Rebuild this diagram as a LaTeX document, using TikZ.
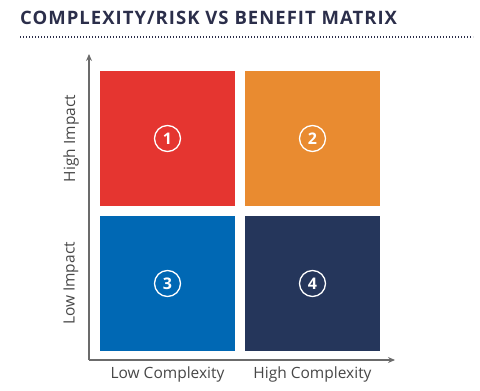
\documentclass[tikz,border=0pt]{standalone}
\usepackage{fontspec}
\setmainfont{Open Sans}
\usetikzlibrary{matrix, arrows.meta}
\definecolor{qred}{HTML}{E53530}
\definecolor{qorange}{HTML}{E98B30}
\definecolor{qblue}{HTML}{0068B4}
\definecolor{qnavy}{HTML}{25365B}
\definecolor{ink}{HTML}{2B2E4A}
\definecolor{axisgray}{HTML}{6B6B6B}
\tikzset{
  quad/.style={minimum size=135pt, inner sep=0pt, outer sep=0pt},
  num/.style={draw=white, circle, line width=1.3pt, minimum size=26pt, inner sep=0pt, text=white, font=\fontsize{16}{16}\selectfont\bfseries},
  axlabel/.style={text=black!72, font=\fontsize{15.5}{16}\selectfont}
}

\begin{document}
\begin{tikzpicture}[x=1pt, y=-1pt]
\useasboundingbox (0,0) rectangle (480,391);
\node[anchor=base west, text=ink, inner sep=0pt, font=\fontsize{18.5}{19}\selectfont\bfseries\addfontfeature{LetterSpace=5.5}] (title) at (20,24) {COMPLEXITY/RISK VS BENEFIT MATRIX};
\coordinate (dl) at (20,37);
\coordinate (dr) at (473,37);
\draw[ink, line width=1.4pt, dash pattern=on 1.2pt off 1.8pt] (dl) -- (dr);
\matrix (m) at (240,211) [matrix of nodes, column sep=10pt, row sep=10pt, nodes={quad}]{
|[fill=qred] (q1)| {} & |[fill=qorange] (q2)| {} \\
|[fill=qblue] (q3)| {} & |[fill=qnavy] (q4)| {} \\
};
\node[num] (n1) at (q1) {1};
\node[num] (n2) at (q2) {2};
\node[num] (n3) at (q3) {3};
\node[num] (n4) at (q4) {4};
% axes
\coordinate (o) at (89,360);
\coordinate (ytip) at (90.5,54);
\coordinate (xtip) at (395,360);
\draw[axisgray, line width=1.2pt, -{Stealth[length=7pt, width=6pt]}] (o) -- (o |- ytip);
\draw[axisgray, line width=1.2pt, -{Stealth[length=7pt, width=6pt]}] (o) -- (xtip);
\node[axlabel] (lc) at (q3 |- 0,374) {Low Complexity};
\node[axlabel] (hc) at (q4 |- 0,374) {High Complexity};
\node[axlabel, rotate=90] (hi) at (71, 0 |- q1) {High Impact};
\node[axlabel, rotate=90] (li) at (71, 0 |- q3) {Low Impact};
\end{tikzpicture}
\end{document}
